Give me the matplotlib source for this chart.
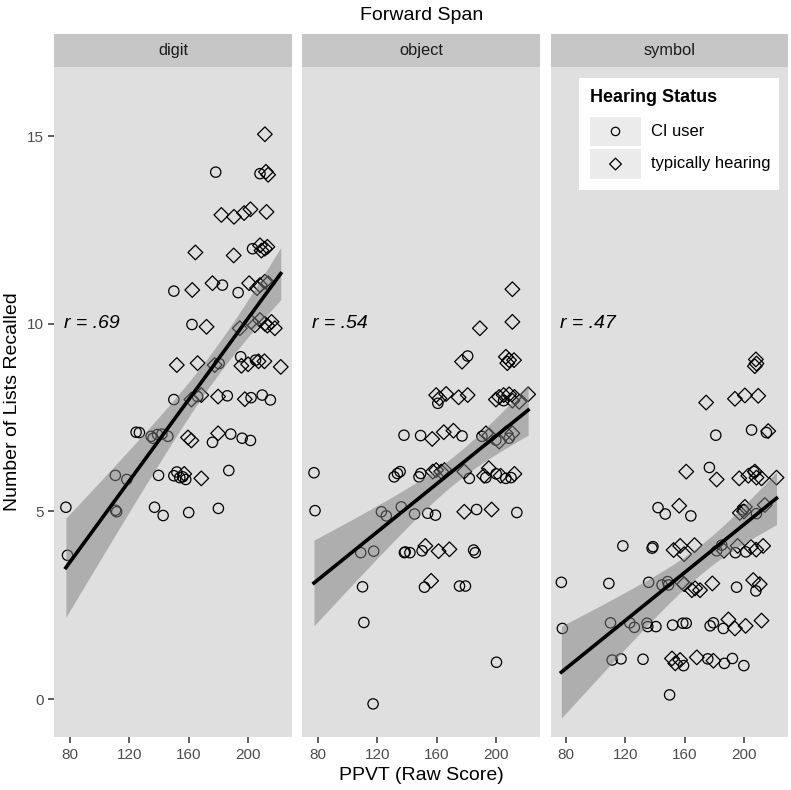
import numpy as np
import matplotlib.pyplot as plt
from matplotlib.patches import Rectangle

plt.rcParams['font.family'] = ['Liberation Sans', 'DejaVu Sans']

# ---- data ----
tasks = ['digit', 'object', 'symbol']
r_labels = ['r = .69', 'r = .54', 'r = .47']

digit_ci_x = [77.3, 78.4, 110.6, 118.3, 110.7, 111.5, 139.7, 150, 152, 154, 156, 158, 187, 137, 142.8,
              160, 180, 124.6, 126.8, 134.7, 136, 139, 142, 146, 176, 188.3, 196, 201.6, 150, 166,
              186, 202, 209.5, 215, 180.5, 195, 205, 162.2, 150, 182.7, 193.3, 203, 178.2, 208]
digit_ci_y = [5.11, 3.83, 5.96, 5.85, 5.03, 4.99, 5.96, 5.95, 6.05, 5.9, 5.92, 5.85, 6.09, 5.11, 4.89,
              4.97, 5.08, 7.11, 7.1, 7.0, 6.95, 7.05, 7.06, 7.0, 6.84, 7.06, 6.95, 6.89, 7.98, 8.06,
              8.08, 8.03, 8.1, 7.97, 8.94, 9.12, 9.03, 9.98, 10.87, 11.03, 10.83, 12.0, 14.04, 14.0]
digit_th_x = [157, 168.5, 159.5, 161.8, 179.8, 161.8, 168.5, 179.8, 197.8, 152, 166, 177.5, 195.5, 200,
              207, 211, 222, 172, 194.4, 202, 204.5, 211.3, 215.8, 218, 208, 213, 162.4, 176, 200.7,
              208, 211.3, 213.5, 206, 164.5, 190.3, 208, 211.3, 209, 213, 182, 190.5, 197.3, 201.6,
              212.4, 213.5, 212, 211.3]
digit_th_y = [6.0, 5.88, 6.97, 6.89, 7.08, 7.98, 8.1, 8.06, 7.99, 8.9, 8.95, 8.9, 8.88, 8.92,
              9.0, 9.0, 8.85, 9.92, 9.88, 10.05, 9.96, 10.0, 10.05, 9.88, 10.1, 9.95, 10.9, 11.08, 11.08,
              11.03, 11.12, 11.08, 10.95, 11.9, 11.82, 12.09, 12.0, 11.95, 12.05, 12.9, 12.85, 12.95, 13.05,
              12.98, 13.97, 14.05, 15.05]

object_ci_x = [77.3, 78, 131.3, 133.5, 135.3, 148, 149.2, 181.9, 122.7, 126, 136.1, 145, 153.9, 159.1,
               186.8, 213.9, 108.8, 117.5, 138.2, 138.7, 141.9, 150.1, 184.8, 185.9, 110, 151.7, 175.3,
               179.3, 110.9, 200.2, 117.1, 137.9, 149.1, 177, 180.8, 193, 206.5, 210, 200, 190.4, 199.8,
               208.7, 160.7, 205]
object_ci_y = [6.03, 5.02, 5.92, 6.01, 6.06, 5.92, 6.01, 5.88, 4.99, 4.88, 5.12, 4.93, 4.95, 4.9,
               5.05, 4.97, 3.9, 3.94, 3.9, 3.92, 3.9, 3.95, 3.97, 3.9, 2.99, 2.98, 3.01,
               3.01, 2.04, 0.98, -0.13, 7.03, 7.02, 7.01, 9.14, 5.9, 5.88, 5.9, 6.0, 7.0, 6.9,
               6.95, 7.88, 7.95]
object_th_x = [210.9, 210.9, 189, 177, 206.5, 208.7, 212, 207.5, 159.6, 161.8, 166.3, 174.7, 180.8, 199.8,
               202, 205, 208.7, 210.9, 212.3, 215.5, 221.5, 156.9, 164.7, 171.2, 193.1, 195.3, 202, 206.5,
               210.9, 157.3, 159.6, 163, 165.2, 178.5, 191.8, 195, 203, 212.3, 178.5, 196.9, 152.3, 161.2,
               168.5, 156.2]
object_th_y = [10.92, 10.05, 9.88, 8.99, 9.12, 9.03, 9.03, 8.95, 8.1, 8.01, 8.13, 8.04, 8.1, 7.98,
               8.05, 8.1, 8.12, 7.95, 8.05, 7.92, 8.12, 6.93, 7.11, 7.15, 7.08, 7.02, 6.86, 7.08,
               7.08, 6.06, 6.1, 6.06, 6.1, 6.06, 5.95, 6.15, 5.95, 6.0, 4.99, 5.05, 4.08, 3.94,
               3.99, 3.15]

symbol_ci_x = [180.8, 204.9, 214.9, 176.5, 206.4, 141.9, 146.8, 164, 199.3, 208.2, 118.2, 137.9, 138.5,
               181.4, 184.8, 194, 201, 76.8, 108.8, 135.6, 144.6, 148.4, 149, 194.8, 207.8, 77.5, 109.9,
               122.9, 126, 134.5, 135, 140.5, 151.7, 158.6, 160.9, 177, 179.2, 185.9, 111, 117, 131.8,
               159.1, 175.4, 186.6, 192, 199.7, 149.7]
symbol_ci_y = [7.03, 7.17, 7.1, 6.17, 6.06, 5.1, 4.93, 4.88, 5.04, 4.94, 4.08, 4.02, 4.06,
               3.95, 4.1, 3.9, 3.92, 3.11, 3.08, 3.11, 3.04, 3.13, 3.04, 2.98, 2.88, 1.88, 2.03,
               2.03, 1.91, 2.02, 1.93, 1.93, 1.97, 2.02, 2.02, 1.95, 2.03, 1.88, 1.04, 1.07, 1.06,
               0.89, 1.07, 0.95, 1.08, 0.89, 0.11]
symbol_th_x = [207.8, 208.2, 207.1, 174.3, 193.7, 200.4, 209.4, 216.1, 160.9, 181.4, 196.6, 202.7, 207.1,
               208.2, 211.6, 221.7, 156.2, 197, 200.4, 213.8, 199.8, 152.4, 156.8, 159.5, 166.5, 186.3,
               195.5, 204.5, 208, 212.7, 158, 159.5, 164.7, 166.9, 170.2, 178.5, 206, 210.4, 189.3, 193.7,
               200.9, 211.6, 151.3, 153.5, 156.8, 168, 179.2]
symbol_th_y = [9.05, 8.94, 8.87, 7.9, 8.0, 8.09, 8.08, 7.14, 6.06, 5.85, 5.88, 5.95, 6.06,
               5.9, 5.88, 5.9, 5.15, 4.96, 5.12, 5.17, 5.0, 3.97, 4.08, 3.86, 4.1, 3.95,
               4.08, 4.05, 3.98, 4.08, 3.11, 3.06, 2.9, 2.95, 2.9, 3.08, 3.17, 3.06, 2.12, 1.88,
               1.95, 2.09, 1.08, 0.95, 1.04, 1.11, 1.02]

panels = [
    (digit_ci_x, digit_ci_y, digit_th_x, digit_th_y),
    (object_ci_x, object_ci_y, object_th_x, object_th_y),
    (symbol_ci_x, symbol_ci_y, symbol_th_x, symbol_th_y),
]

# ---- layout ----
W, H = 791, 790
fig = plt.figure(figsize=(W / 100, H / 100), dpi=100)

pan_left = 54.3
pan_w = 237.6
pan_gap = 10.5
pan_top = 66.7
pan_bot = 737.3
strip_top = 34.0

panel_bg = '#DFDFDF'
strip_bg = '#C6C6C6'
tick_col = '#4D4D4D'


def lm_band(x, y, xs):
    # ordinary least squares + 95% CI of the mean (like geom_smooth(method='lm'))
    x = np.asarray(x, float)
    y = np.asarray(y, float)
    n = len(x)
    b, a = np.polyfit(x, y, 1)
    resid = y - (a + b * x)
    s = np.sqrt(np.sum(resid ** 2) / (n - 2))
    sxx = np.sum((x - x.mean()) ** 2)
    se = s * np.sqrt(1.0 / n + (xs - x.mean()) ** 2 / sxx)
    fit = a + b * xs
    return fit, fit - 1.98 * se, fit + 1.98 * se


axes = []
for i, (task, rl, (cx, cy, tx, ty)) in enumerate(zip(tasks, r_labels, panels)):
    left = pan_left + i * (pan_w + pan_gap)
    ax = fig.add_axes([left / W, 1 - pan_bot / H, pan_w / W, (pan_bot - pan_top) / H])
    ax.set_facecolor(panel_bg)
    for sp in ax.spines.values():
        sp.set_visible(False)

    ax.scatter(cx, cy, s=55, marker='o', facecolors='none', edgecolors='black', linewidths=0.9, zorder=2)
    ax.scatter(tx, ty, s=56, marker='D', facecolors='none', edgecolors='black', linewidths=0.9, zorder=2)

    allx = np.concatenate([cx, tx])
    ally = np.concatenate([cy, ty])
    xs = np.linspace(allx.min(), allx.max(), 100)
    fit, lo, hi = lm_band(allx, ally, xs)
    ax.fill_between(xs, lo, hi, color='#7F7F7F', alpha=0.5, linewidth=0, zorder=3)
    ax.plot(xs, fit, color='black', linewidth=2.6, zorder=4)

    ax.text(76, 10, rl, fontsize=14, style='italic', ha='left', va='center', zorder=5)

    ax.set_xlim(69.5, 229.5)
    ax.set_ylim(-1.02, 16.85)
    ax.set_xticks([80, 120, 160, 200])
    ax.set_yticks([0, 5, 10, 15])
    ax.tick_params(colors='#333333', labelcolor=tick_col, labelsize=11, length=4, width=1.1)
    if i > 0:
        ax.tick_params(axis='y', left=False, labelleft=False)

    # facet strip
    sax = fig.add_axes([left / W, 1 - pan_top / H, pan_w / W, (pan_top - strip_top) / H])
    sax.set_facecolor(strip_bg)
    sax.set_xticks([])
    sax.set_yticks([])
    for sp in sax.spines.values():
        sp.set_visible(False)
    sax.text(0.5, 0.5, task, ha='center', va='center', fontsize=11.8, color='#1A1A1A',
             transform=sax.transAxes)
    axes.append(ax)

# titles
cx_mid = (pan_left + 3 * pan_w + 2 * pan_gap + pan_left) / 2 / W
fig.text(cx_mid, 1 - 15 / H, 'Forward Span', ha='center', va='center', fontsize=14)
fig.text(cx_mid, 1 - 775 / H, 'PPVT (Raw Score)', ha='center', va='center', fontsize=14)
fig.text(13 / W, 1 - (pan_top + pan_bot) / 2 / H, 'Number of Lists Recalled', ha='center',
         va='center', rotation=90, fontsize=14)

# legend (ggplot style, drawn by hand)
def fx(px):
    return px / W


def fy(py):
    return 1 - py / H


fig.patches.append(Rectangle((fx(579.3), fy(190)), (779 - 579.3) / W, (190 - 77.7) / H,
                             transform=fig.transFigure, facecolor='white', edgecolor='none', zorder=10))
fig.text(fx(590), fy(98), 'Hearing Status', fontsize=13, fontweight='bold', ha='left', va='center',
         zorder=11)
legend_labels = ['CI user', 'typically hearing']
legend_markers = ['o', 'D']
legend_sizes = [36, 36]
key_tops = [116.7, 149.3]
for lab, mk, ms, kt in zip(legend_labels, legend_markers, legend_sizes, key_tops):
    fig.patches.append(Rectangle((fx(590.3), fy(kt + 29.5)), 50.4 / W, 29.5 / H,
                                 transform=fig.transFigure, facecolor='#EBEBEB', edgecolor='none',
                                 zorder=11))
    fig.text(fx(650.7), fy(kt + 14.5), lab, fontsize=11.9, ha='left', va='center', zorder=12)
    kax = fig.add_axes([fx(590.3), fy(kt + 29.5), 50.4 / W, 29.5 / H], zorder=12)
    kax.set_axis_off()
    kax.set_xlim(0, 1)
    kax.set_ylim(0, 1)
    kax.scatter([0.5], [0.5], s=ms, marker=mk, facecolors='none', edgecolors='black', linewidths=0.9)

fig.savefig('out.png', dpi=100, facecolor='white')
